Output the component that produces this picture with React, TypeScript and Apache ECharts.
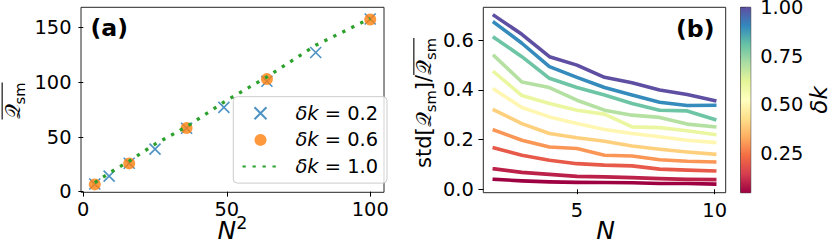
import React, { useEffect, useRef } from "react";
import * as echarts from "echarts";

const FAM = "DejaVu Sans";
const FS = 19.4;

// ---------- Panel (a) data ----------
const nSquaredAll = [4, 9, 16, 25, 36, 49, 64, 81, 100];
const nSquaredEven = [4, 16, 36, 64, 100];
const qSmDk02 = [7.0, 14.3, 26.0, 39.0, 58.0, 77.1, 101.0, 127.4, 158.0];
const qSmDk06 = [6.7, 25.9, 58.2, 103.0, 157.6];
const qSmDk10 = [8.2, 17.0, 28.0, 43.5, 59.5, 82.0, 105.0, 134.0, 158.5];
const legendNames = ["δk = 0.2", "δk = 0.6", "δk = 1.0"];
const xTicksA = [0, 50, 100];
const yTicksA = [0, 50, 100, 150];

// ---------- Panel (b) data ----------
const nValues = [2, 3, 4, 5, 6, 7, 8, 9, 10];
const dkValues = [0.05, 0.1, 0.2, 0.3, 0.4, 0.5, 0.6, 0.7, 0.8, 0.9, 1.0];
const ratioDk005 = [0.040, 0.034, 0.030, 0.028, 0.027, 0.026, 0.023, 0.023, 0.021];
const ratioDk01 = [0.082, 0.068, 0.060, 0.052, 0.050, 0.047, 0.043, 0.040, 0.039];
const ratioDk02 = [0.166, 0.137, 0.117, 0.103, 0.097, 0.094, 0.081, 0.077, 0.074];
const ratioDk03 = [0.238, 0.197, 0.170, 0.164, 0.137, 0.134, 0.119, 0.113, 0.110];
const ratioDk04 = [0.318, 0.264, 0.224, 0.207, 0.193, 0.174, 0.161, 0.150, 0.141];
const ratioDk05 = [0.401, 0.329, 0.291, 0.264, 0.240, 0.224, 0.211, 0.197, 0.188];
const ratioDk06 = [0.470, 0.377, 0.345, 0.318, 0.302, 0.251, 0.248, 0.235, 0.220];
const ratioDk07 = [0.536, 0.431, 0.409, 0.358, 0.318, 0.298, 0.289, 0.262, 0.251];
const ratioDk08 = [0.609, 0.533, 0.446, 0.409, 0.379, 0.345, 0.318, 0.315, 0.281];
const ratioDk09 = [0.670, 0.587, 0.493, 0.450, 0.409, 0.379, 0.350, 0.337, 0.338];
const ratioDk10 = [0.698, 0.623, 0.533, 0.499, 0.450, 0.428, 0.399, 0.381, 0.356];
const ratioSeries = [ratioDk005, ratioDk01, ratioDk02, ratioDk03, ratioDk04, ratioDk05, ratioDk06, ratioDk07, ratioDk08, ratioDk09, ratioDk10];
const xTicksB = [5, 10];
const yTicksB = [0, 0.2, 0.4, 0.6];
const cbTicks = [0.25, 0.5, 0.75, 1.0];
const cbMin = 0.05;
const cbMax = 1.0;

// Spectral colormap
const SPECTRAL = ["#9e0142", "#d53e4f", "#f46d43", "#fdae61", "#fee08b", "#ffffbf", "#e6f598", "#abdda4", "#66c2a5", "#3288bd", "#5e4fa2"];

function hexToRgb(h: string) {
  return [parseInt(h.slice(1, 3), 16), parseInt(h.slice(3, 5), 16), parseInt(h.slice(5, 7), 16)];
}
function spectralAt(t: number) {
  const tt = Math.max(0, Math.min(1, t));
  const pos = tt * (SPECTRAL.length - 1);
  const i = Math.min(Math.floor(pos), SPECTRAL.length - 2);
  const f = pos - i;
  const a = hexToRgb(SPECTRAL[i]);
  const b = hexToRgb(SPECTRAL[i + 1]);
  const c = a.map((v, k) => Math.round(v + (b[k] - v) * f));
  return `rgb(${c[0]},${c[1]},${c[2]})`;
}

let measureCtx: CanvasRenderingContext2D | null = null;
function textWidth(text: string, font: string) {
  if (!measureCtx) measureCtx = document.createElement("canvas").getContext("2d");
  measureCtx!.font = font;
  return measureCtx!.measureText(text).width;
}

type Part = { t: string; size: number; italic?: boolean; sub?: boolean; sup?: boolean; over?: boolean; family?: string };

// Builds a label laid out along a baseline; (bx, by) is the centre of the baseline.
function mathLabel(parts: Part[], bx: number, by: number, rotation: number, overOffset = 0) {
  const fams = parts.map((p) => p.family ?? FAM);
  const fonts = parts.map((p, i) => `${p.italic ? "italic " : ""}${p.size}px ${fams[i].split(",").map((s) => `"${s.trim()}"`).join(", ")}`);
  const widths = parts.map((p, i) => textWidth(p.t, fonts[i]));
  const total = widths.reduce((a, b) => a + b, 0);
  let x = -total / 2;
  const children: any[] = [];
  let overStart: number | null = null;
  let overEnd: number | null = null;
  let maxSize = 0;
  parts.forEach((p, i) => {
    const shift = p.sub ? 0.2 * p.size / 0.7 : p.sup ? -0.43 * p.size / 0.7 : 0;
    maxSize = Math.max(maxSize, p.size);
    children.push({
      type: "text",
      x,
      y: shift - 0.346 * p.size,
      style: {
        text: p.t,
        fontSize: p.size,
        fontFamily: fams[i],
        fontStyle: p.italic ? "italic" : "normal",
        fill: "#000",
        align: "left",
        verticalAlign: "middle",
      },
    });
    if (p.over) {
      if (overStart === null) overStart = x;
      overEnd = x + widths[i];
    }
    x += widths[i];
  });
  if (overStart !== null && overEnd !== null) {
    const oy = -0.85 * maxSize + overOffset;
    children.push({
      type: "line",
      shape: { x1: overStart, y1: oy, x2: overEnd, y2: oy },
      style: { stroke: "#000", lineWidth: 1.1 },
    });
  }
  return { type: "group", x: bx, y: by, rotation, children, silent: true };
}

const tickLabel = { fontSize: FS, fontFamily: FAM, color: "#000" };
const tickStyle = { show: true, inside: false, length: 4.9, lineStyle: { color: "#000", width: 1 } };

export default function App() {
  const ref = useRef<HTMLDivElement>(null);

  useEffect(() => {
    document.body.style.margin = "0";
    if (!ref.current) return;
    const chart = echarts.init(ref.current, null, { renderer: "svg" });

    const gridBorder = { show: true, borderColor: "#262626", borderWidth: 1, backgroundColor: "transparent", containLabel: false, outerBoundsMode: "none" };

    const bSeries = ratioSeries.map((vals, si) => ({
      type: "line",
      name: `b${si}`,
      xAxisIndex: 1,
      yAxisIndex: 1,
      data: nValues.map((n, i) => [n, vals[i]]),
      symbol: "none",
      lineStyle: { width: 3.6, color: spectralAt((dkValues[si] - cbMin) / (cbMax - cbMin)), cap: "square", join: "round" },
      z: 2,
      silent: true,
    }));

    const stops = SPECTRAL.map((c, i) => ({ offset: i / (SPECTRAL.length - 1), color: c }));

    const LFS = 21;
    const SUB = 14.7;
    const QFAM = "DejaVu Sans, Liberation Serif, serif";
    const qLabel = (size: number): Part => ({ t: "𝒬", size, family: QFAM });

    const option: any = {
      animation: false,
      backgroundColor: "#fff",
      grid: [
        { left: 81, top: 7.3, width: 303, height: 185, ...gridBorder },
        { left: 483.3, top: 7.3, width: 242.4, height: 185.4, ...gridBorder },
        { left: 740.7, top: 7.3, width: 10, height: 185.4, ...gridBorder },
      ],
      xAxis: [
        {
          gridIndex: 0, type: "value", min: -0.8, max: 104.8,
          axisLine: { show: false }, splitLine: { show: false },
          axisTick: { ...tickStyle, customValues: xTicksA },
          axisLabel: { ...tickLabel, margin: 8, customValues: xTicksA },
        },
        {
          gridIndex: 1, type: "value", min: 1.6, max: 10.4,
          axisLine: { show: false }, splitLine: { show: false },
          axisTick: { ...tickStyle, customValues: xTicksB },
          axisLabel: { ...tickLabel, margin: 8, customValues: xTicksB },
        },
        { gridIndex: 2, type: "value", min: 0, max: 1, show: false },
      ],
      yAxis: [
        {
          gridIndex: 0, type: "value", min: -0.55, max: 168.7,
          axisLine: { show: false }, splitLine: { show: false },
          axisTick: { ...tickStyle, customValues: yTicksA },
          axisLabel: { ...tickLabel, margin: 9.5, customValues: yTicksA },
        },
        {
          gridIndex: 1, type: "value", min: -0.0137, max: 0.7315,
          axisLine: { show: false }, splitLine: { show: false },
          axisTick: { ...tickStyle, customValues: yTicksB },
          axisLabel: { ...tickLabel, margin: 9.5, customValues: yTicksB, formatter: (v: number) => v.toFixed(1) },
        },
        {
          gridIndex: 2, type: "value", min: cbMin, max: cbMax, position: "right",
          axisLine: { show: false }, splitLine: { show: false },
          axisTick: { ...tickStyle, customValues: cbTicks },
          axisLabel: { ...tickLabel, margin: 9.5, customValues: cbTicks, formatter: (v: number) => v.toFixed(2) },
        },
      ],
      legend: {
        data: legendNames,
        orient: "vertical",
        left: 233.3,
        top: 96.7,
        itemWidth: 36,
        itemHeight: 12,
        itemGap: 4.7,
        padding: [5.5, 9, 5.5, 8.2],
        borderColor: "#cccccc",
        borderWidth: 1,
        borderRadius: 4,
        backgroundColor: "rgba(255,255,255,0.8)",
        selectedMode: false,
        textStyle: {
          fontSize: FS, fontFamily: FAM, color: "#000", lineHeight: 22, padding: [0, 0, 0, 12],
          rich: { i: { fontSize: FS, fontFamily: FAM, fontStyle: "italic", color: "#000", lineHeight: 22 } },
        },
        formatter: (name: string) => name.replace("δk", "{i|δk}"),
      },
      series: [
        {
          type: "scatter",
          name: legendNames[0],
          xAxisIndex: 0, yAxisIndex: 0,
          data: nSquaredAll.map((x, i) => [x, qSmDk02[i]]),
          symbol: "path://M0 0L10 10M10 0L0 10",
          symbolSize: 11,
          symbolKeepAspect: true,
          itemStyle: { color: "#1f77b4", borderColor: "#1f77b4", borderWidth: 1.6 },
          z: 3,
          silent: true,
        },
        {
          type: "scatter",
          name: legendNames[1],
          xAxisIndex: 0, yAxisIndex: 0,
          data: nSquaredEven.map((x, i) => [x, qSmDk06[i]]),
          symbol: "circle",
          symbolSize: 12,
          itemStyle: { color: "#ff7f0e" },
          z: 4,
          silent: true,
        },
        {
          type: "line",
          name: legendNames[2],
          xAxisIndex: 0, yAxisIndex: 0,
          data: nSquaredAll.map((x, i) => [x, qSmDk10[i]]),
          symbol: "none",
          lineStyle: { color: "#2ca02c", width: 3.3, type: [3.3, 6.7], cap: "butt" },
          itemStyle: { color: "rgba(0,0,0,0)", borderWidth: 0 },
          z: 5,
          silent: true,
        },
        ...bSeries,
        {
          type: "custom",
          name: "colorbar",
          xAxisIndex: 2, yAxisIndex: 2,
          data: [[0.5, cbMax]],
          silent: true,
          renderItem: (params: any, api: any) => {
            const top = api.coord([0, cbMax]);
            const bot = api.coord([1, cbMin]);
            return {
              type: "rect",
              shape: { x: top[0], y: top[1], width: bot[0] - top[0], height: bot[1] - top[1] },
              style: { fill: new echarts.graphic.LinearGradient(0, 1, 0, 0, stops) },
            };
          },
          z: 1,
        },
      ],
      graphic: [
        { type: "text", x: 90.5, y: 28.3, silent: true, style: { text: "(a)", fontSize: 23.6, fontWeight: "bold", fontFamily: FAM, fill: "#000", align: "left", verticalAlign: "middle" } },
        { type: "text", x: 714.5, y: 29, silent: true, style: { text: "(b)", fontSize: 23.6, fontWeight: "bold", fontFamily: FAM, fill: "#000", align: "right", verticalAlign: "middle" } },
        mathLabel([{ t: "N", size: 25, italic: true }, { t: "2", size: 17.5, sup: true }], 232.5, 239.5, 0),
        mathLabel([{ t: "N", size: 25, italic: true }], 605.5, 239.5, 0),
        mathLabel([{ t: "δk", size: 23, italic: true }], 827, 100, Math.PI / 2),
        mathLabel([{ ...qLabel(LFS), over: true }, { t: "sm", size: SUB, sub: true, over: true }], 20, 101, Math.PI / 2),
        mathLabel(
          [
            { t: "std[", size: LFS },
            qLabel(LFS),
            { t: "sm", size: SUB, sub: true },
            { t: "]/", size: LFS },
            { ...qLabel(LFS), over: true },
            { t: "sm", size: SUB, sub: true, over: true },
          ],
          431.7, 103, Math.PI / 2
        ),
      ],
    };

    chart.setOption(option);
    return () => chart.dispose();
  }, []);

  return <div ref={ref} style={{ width: 831, height: 247, position: "absolute", left: 0, top: 0 }} />;
}
